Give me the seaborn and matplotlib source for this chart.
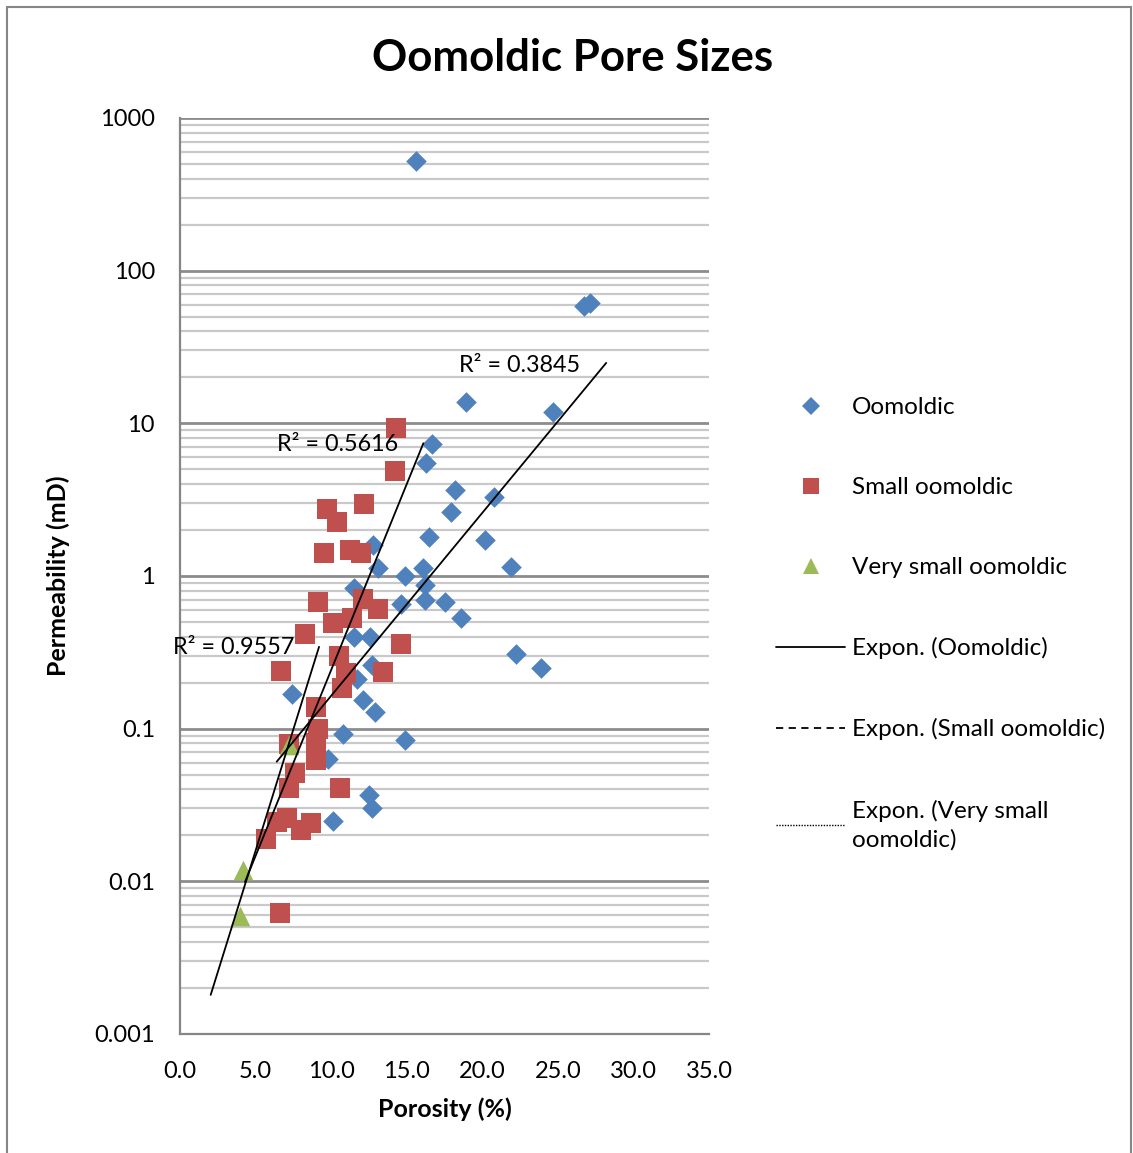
import numpy as np
import pandas as pd
import matplotlib
matplotlib.use("Agg")
import matplotlib.pyplot as plt
from matplotlib.lines import Line2D
from matplotlib.patches import Rectangle
import matplotlib.ticker as mticker
import seaborn as sns

# ---------------- data ----------------
oomoldic_por = [15.6, 26.7, 27.1, 18.9, 24.7, 16.7, 16.3, 18.2, 20.8, 17.9,
                16.5, 20.2, 12.8, 13.1, 21.9, 14.9, 16.1, 16.2, 11.5, 14.6,
                16.2, 17.5, 18.6, 11.5, 12.6, 22.2, 23.9, 12.7, 11.7, 7.4,
                12.1, 12.9, 10.8, 14.9, 9.8, 12.5, 12.7, 10.1]
oomoldic_perm = [522, 58.7, 61.4, 13.8, 11.9, 7.3, 5.5, 3.66, 3.29, 2.62,
                 1.80, 1.72, 1.60, 1.13, 1.15, 1.0, 1.12, 0.87, 0.83, 0.66,
                 0.70, 0.68, 0.53, 0.40, 0.40, 0.31, 0.25, 0.26, 0.21, 0.169,
                 0.154, 0.129, 0.092, 0.084, 0.063, 0.037, 0.030, 0.025]

small_por = [14.3, 14.2, 12.2, 9.7, 10.4, 9.5, 11.25, 12.0, 9.15, 12.1,
             13.1, 11.4, 10.1, 8.3, 14.6, 10.5, 6.7, 13.4, 11.0, 10.7,
             9.0, 9.1, 9.0, 7.2, 9.0, 7.6, 7.2, 10.6, 7.1, 8.7,
             8.0, 5.7, 6.6, 6.4]
small_perm = [9.3, 4.9, 2.95, 2.73, 2.27, 1.42, 1.47, 1.41, 0.68, 0.71,
              0.61, 0.53, 0.49, 0.42, 0.36, 0.30, 0.24, 0.234, 0.23, 0.184,
              0.139, 0.10, 0.080, 0.079, 0.062, 0.051, 0.041, 0.041, 0.0259, 0.024,
              0.0217, 0.0189, 0.0062, 0.0245]

vsmall_por = [4.17, 3.97, 7.2]
vsmall_perm = [0.0119, 0.0059, 0.078]

series_names = ["Oomoldic", "Small oomoldic", "Very small oomoldic"]
series_colors = ["#4F81BD", "#C0504D", "#9BBB59"]
series_markers = ["D", "s", "^"]

# exponential trendlines y = a * exp(b x) (Excel style), with x range and R^2
trend_a = [0.0104, 0.000889, 0.000408]
trend_b = [0.2759, 0.5607, 0.7322]
trend_x0 = [6.4, 4.3, 2.03]
trend_x1 = [28.2, 16.1, 9.2]
trend_r2 = ["0.3845", "0.5616", "0.9557"]
r2_label_x = [18.45, 6.4, -0.45]
r2_label_y = [24.1, 7.3, 0.338]

x_ticks = [0, 5, 10, 15, 20, 25, 30, 35]
y_ticks = [0.001, 0.01, 0.1, 1, 10, 100, 1000]
y_tick_labels = ["0.001", "0.01", "0.1", "1", "10", "100", "1000"]

legend_labels = ["Oomoldic", "Small oomoldic", "Very small oomoldic",
                 "Expon. (Oomoldic)", "Expon. (Small oomoldic)",
                 "Expon. (Very small\noomoldic)"]

# ---------------- build table ----------------
df = pd.concat([
    pd.DataFrame({"Porosity": oomoldic_por, "Permeability": oomoldic_perm, "Series": series_names[0]}),
    pd.DataFrame({"Porosity": small_por, "Permeability": small_perm, "Series": series_names[1]}),
    pd.DataFrame({"Porosity": vsmall_por, "Permeability": vsmall_perm, "Series": series_names[2]}),
], ignore_index=True)

trend_rows = []
for name, a, b, x0, x1 in zip(series_names, trend_a, trend_b, trend_x0, trend_x1):
    for xv in (x0, x1):
        trend_rows.append({"Porosity": xv, "Permeability": a * np.exp(b * xv), "Series": name})
tdf = pd.DataFrame(trend_rows)

# ---------------- style ----------------
sns.set_style("white")
plt.rcParams["font.family"] = ["Lato", "DejaVu Sans"]
plt.rcParams["text.color"] = "black"
plt.rcParams["axes.labelcolor"] = "black"
plt.rcParams["xtick.color"] = "black"
plt.rcParams["ytick.color"] = "black"

W, H = 1133, 1153
fig = plt.figure(figsize=(W / 100, H / 100), dpi=100)
ax = fig.add_axes([180 / W, 1 - 1034 / H, 529 / W, 916 / H])

ax.set_yscale("log")
ax.set_xlim(0, 35)
ax.set_ylim(0.001, 1000)

# gridlines
ax.yaxis.set_minor_locator(mticker.LogLocator(base=10, subs=np.arange(2, 10)))
ax.grid(which="minor", axis="y", color="#C9C9C9", linewidth=1.6)
ax.grid(which="major", axis="y", color="#8C8C8C", linewidth=2.0)
ax.set_axisbelow(True)

marker_sizes = {"Oomoldic": 110, "Small oomoldic": 205, "Very small oomoldic": 200}
for name, col, mk in zip(series_names, series_colors, series_markers):
    sub = df[df["Series"] == name]
    sns.scatterplot(data=sub, x="Porosity", y="Permeability", color=col, marker=mk,
                    s=marker_sizes[name], linewidth=0, ax=ax, legend=False, zorder=3)

for name in series_names:
    sub = tdf[tdf["Series"] == name]
    sns.lineplot(data=sub, x="Porosity", y="Permeability", color="black",
                 linewidth=1.3, ax=ax, legend=False, zorder=4, estimator=None, sort=False)

for txt, xv, yv in zip(trend_r2, r2_label_x, r2_label_y):
    ax.text(xv, yv, "R² = " + txt, fontsize=16.8, ha="left", va="center",
            color="black", clip_on=False, zorder=5)

# axes / ticks
for s in ["top", "right"]:
    ax.spines[s].set_visible(False)
for s in ["left", "bottom"]:
    ax.spines[s].set_color("#868686")
    ax.spines[s].set_linewidth(1.6)

ax.set_xticks(x_ticks)
ax.set_xticklabels([f"{v:.1f}" for v in x_ticks])
ax.set_yticks(y_ticks)
ax.set_yticklabels(y_tick_labels)
ax.tick_params(axis="both", which="major", direction="out", length=5.8, width=1.4,
               color="#868686", labelsize=17, labelcolor="black")
ax.tick_params(axis="y", which="minor", length=0)
ax.tick_params(axis="x", which="major", pad=13.5)
ax.tick_params(axis="y", which="major", pad=12.2)

ax.set_xlabel("Porosity (%)", fontsize=18, fontweight="bold")
ax.set_ylabel("Permeability (mD)", fontsize=18, fontweight="bold")
ax.xaxis.label.set_va("center")
ax.yaxis.label.set_va("center")
ax.xaxis.set_label_coords(0.5, -(1109 - 1034) / 916)
ax.yaxis.set_label_coords((58 - 180) / 529, 0.5)

fig.text(573 / W, 1 - 58 / H, "Oomoldic Pore Sizes", fontsize=31.5, fontweight="bold",
         ha="center", va="center", color="black")

# legend
handles = [
    Line2D([], [], linestyle="none", marker="D", markersize=9, color=series_colors[0], markeredgewidth=0),
    Line2D([], [], linestyle="none", marker="s", markersize=12, color=series_colors[1], markeredgewidth=0),
    Line2D([], [], linestyle="none", marker="^", markersize=12, color=series_colors[2], markeredgewidth=0),
    Line2D([], [], color="black", linewidth=1.3, linestyle="-"),
    Line2D([], [], color="black", linewidth=1.3, linestyle=(0, (4, 3))),
    Line2D([], [], color="black", linewidth=1.0, linestyle=(0, (1, 1))),
]
leg = fig.legend(handles, legend_labels, loc="upper left",
                 bbox_to_anchor=(776 / W, 1 - 397 / H), frameon=False,
                 fontsize=17.5, handlelength=2.84, handletextpad=0.29,
                 labelspacing=2.43, borderaxespad=0, borderpad=0)
leg.get_texts()[-1].set_linespacing(1.45)

# outer chart border
fig.patches.append(Rectangle((7 / W, -0.01), 1124 / W, 1.01 - 7 / H, transform=fig.transFigure,
                             fill=False, edgecolor="#868686", linewidth=1.5))

fig.savefig("out.png", dpi=100)
